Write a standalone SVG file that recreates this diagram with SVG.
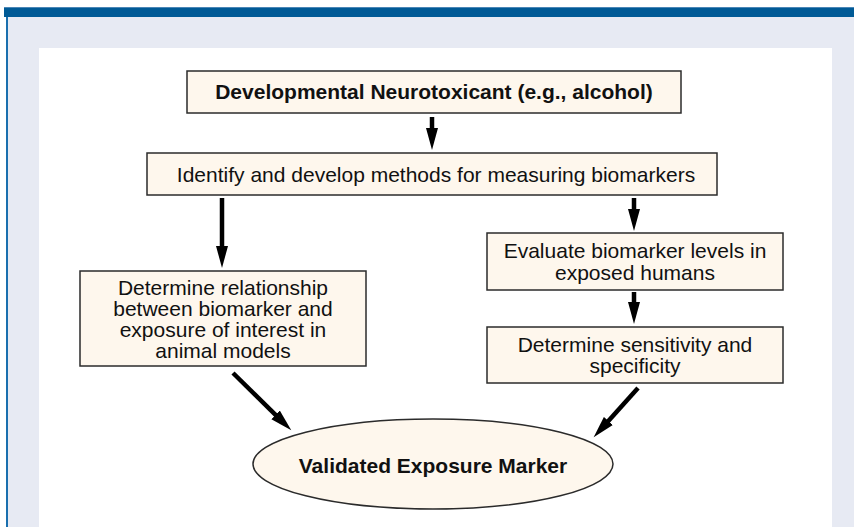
<svg xmlns="http://www.w3.org/2000/svg" width="854" height="527" viewBox="0 0 854 527">
<style>
.box{fill:#fef7ed;stroke:#2b2b2b;stroke-width:1.5}
.t{font-family:"Liberation Sans",Arial,sans-serif;font-size:21px;fill:#111;text-anchor:middle}
.b{font-weight:bold}
.sh{stroke:#000;stroke-width:4.5;fill:none;marker-end:url(#ah)}
</style>
<defs>
<marker id="ah" markerUnits="userSpaceOnUse" markerWidth="24" markerHeight="14" viewBox="0 -7 24 14" refX="1" refY="0" orient="auto">
<path d="M0,-6 L22,0 L0,6 z" fill="#000"/>
</marker>
</defs>
<g id="background">
<rect x="0" y="0" width="854" height="527" fill="#fff"/>
<rect x="8" y="17" width="846" height="510" fill="#e7eaf3"/>
<rect x="4" y="7" width="850" height="10" fill="#005a96"/>
<rect x="4" y="7" width="850" height="1" fill="#4a86b6"/>
<rect x="6" y="17" width="2" height="510" fill="#1a6fae"/>
<rect x="39" y="48" width="793" height="479" fill="#fff"/>
</g>
<g id="connectors">
<line class="sh" x1="432" y1="117" x2="432" y2="129"/>
<line class="sh" x1="222" y1="198" x2="222" y2="247"/>
<line class="sh" x1="634" y1="198" x2="634" y2="210"/>
<line class="sh" x1="634" y1="292" x2="634" y2="303"/>
<line class="sh" x1="233" y1="373" x2="276.3" y2="415.6"/>
<line class="sh" x1="638" y1="388" x2="607.7" y2="421.7"/>
</g>
<g id="n1">
<rect class="box" x="187" y="71" width="494" height="42"/>
<text class="t b" x="434" y="99">Developmental Neurotoxicant (e.g., alcohol)</text>
</g>
<g id="n2">
<rect class="box" x="147" y="153" width="570" height="42"/>
<text class="t" x="436" y="181.5">Identify and develop methods for measuring biomarkers</text>
</g>
<g id="n3">
<rect class="box" x="80" y="271" width="286" height="95"/>
<text class="t" x="223" y="294.5">Determine relationship</text>
<text class="t" x="223" y="315.5">between biomarker and</text>
<text class="t" x="223" y="336.5">exposure of interest in</text>
<text class="t" x="223" y="357.5">animal models</text>
</g>
<g id="n4">
<rect class="box" x="487" y="233" width="296" height="57"/>
<text class="t" x="635" y="258">Evaluate biomarker levels in</text>
<text class="t" x="635" y="280">exposed humans</text>
</g>
<g id="n5">
<rect class="box" x="487" y="327" width="296" height="56"/>
<text class="t" x="635" y="352">Determine sensitivity and</text>
<text class="t" x="635" y="373">specificity</text>
</g>
<g id="n6">
<ellipse class="box" cx="433" cy="464" rx="180" ry="45"/>
<text class="t b" x="433" y="473">Validated Exposure Marker</text>
</g>
</svg>
